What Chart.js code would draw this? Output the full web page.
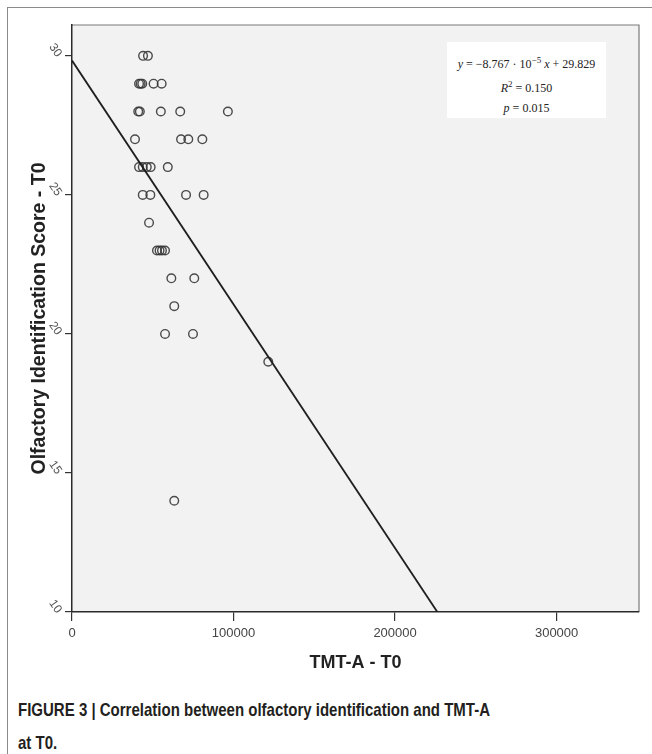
<!DOCTYPE html>
<html>
<head>
<meta charset="utf-8">
<script src="https://cdn.jsdelivr.net/npm/chart.js@4.4.1/dist/chart.umd.min.js"></script>
<style>
  html, body { margin: 0; padding: 0; background: #fff; width: 652px; height: 754px; overflow: hidden; }
  #frame { position: absolute; left: 7px; top: 7px; width: 700px; height: 800px;
           border-top: 1.5px solid #8a8a8a; border-left: 1.5px solid #8a8a8a; }
  #wrap { position: absolute; left: 0; top: 0; width: 652px; height: 680px; }
  #note { position: absolute; left: 447px; top: 42px; width: 159px; height: 76px; background: #fff;
          font-family: "Liberation Serif", "DejaVu Serif", serif; font-size: 12px; color: #222;
          text-align: center; line-height: 20px; padding-top: 8px; box-sizing: border-box; }
  #note i { font-style: italic; }
  #caption { position: absolute; left: 18px; top: 693px; width: 800px;
             font-family: "Liberation Sans", Arial, sans-serif; font-weight: bold;
             font-size: 19px; line-height: 33px; color: #231f20;
             transform: scaleX(0.79); transform-origin: 0 0; }
</style>
</head>
<body>
<div id="frame"></div>
<div id="wrap"><canvas id="grafico"></canvas></div>
<div id="note">
  <div><i>y</i> = −8.767 · 10<sup style="font-size:9px">−5</sup> <i>x</i> + 29.829</div>
  <div><i>R</i><sup style="font-size:9px">2</sup> = 0.150</div>
  <div><i>p</i> = 0.015</div>
</div>
<div id="caption">FIGURE 3 | Correlation between olfactory identification and TMT-A<br>at T0.</div>
<script>

// TMT-A time (x) e score de identificação olfativa (y)
var tmt_a = [
    44000, 47000,
    41500, 42500, 43500, 50500, 55500,
    41000, 42000, 55000, 67000, 96500,
    39000, 67500, 72000, 80700,
    41500, 43800, 46300, 48700, 59300,
    43800, 48500, 70600, 81500,
    47700,
    52600, 54200, 55700, 57600,
    61500, 75700,
    63300,
    57600, 74900,
    121500,
    63300
];
var olfato = [
    30, 30,
    29, 29, 29, 29, 29,
    28, 28, 28, 28, 28,
    27, 27, 27, 27,
    26, 26, 26, 26, 26,
    25, 25, 25, 25,
    24,
    23, 23, 23, 23,
    22, 22,
    21,
    20, 20,
    19,
    14
];

// reta de regressão: y = -8.767e-5 x + 29.829 (pontos extremos)
var reta_x = [0, 226180];
var reta_y = [29.829, 10];

var x_ticks = [0, 100000, 200000, 300000];
var y_ticks = [10, 15, 20, 25, 30];

var pontos = tmt_a.map(function (v, i) { return { x: v, y: olfato[i] }; });
var pontos_reta = reta_x.map(function (v, i) { return { x: v, y: reta_y[i] }; });

// fundo cinza da área do gráfico
const fundo_plot = {
    id: 'fundo_plot',
    beforeDraw(chart) {
        const a = chart.chartArea;
        const ctx = chart.ctx;
        ctx.save();
        ctx.fillStyle = '#f2f2f2';
        ctx.fillRect(a.left, a.top, a.right - a.left, a.bottom - a.top);
        ctx.strokeStyle = '#7a7a7a';
        ctx.lineWidth = 1.2;
        ctx.beginPath();
        ctx.moveTo(a.left, a.top);
        ctx.lineTo(a.right, a.top);
        ctx.lineTo(a.right, a.bottom);
        ctx.stroke();
        ctx.restore();
    }
};

const grafico = document.getElementById('grafico');

var myChart = new Chart(grafico, {
    type: 'scatter',
    data: {
        datasets: [{
            label: 'Pontos',
            data: pontos,
            pointStyle: 'circle',
            pointRadius: 4.3,
            pointBorderWidth: 1.4,
            borderColor: 'rgba(55, 55, 55, 0.9)',
            backgroundColor: 'rgba(0, 0, 0, 0)',
            order: 2
        }, {
            label: 'Regressão',
            type: 'line',
            data: pontos_reta,
            borderColor: '#1e1e1e',
            borderWidth: 1.8,
            pointRadius: 0,
            fill: false,
            order: 1
        }]
    },
    options: {
        responsive: true,
        maintainAspectRatio: false,
        animation: false,
        layout: {
            padding: { left: 8, top: 25, right: 13, bottom: 4 }
        },
        plugins: {
            legend: { display: false },
            tooltip: { enabled: false }
        },
        scales: {
            x: {
                type: 'linear',
                min: 0,
                max: 351000,
                afterBuildTicks: function (scale) {
                    scale.ticks = x_ticks.map(function (v) { return { value: v }; });
                },
                afterFit: function (scale) { scale.height = 64; },
                grid: { drawOnChartArea: false, drawTicks: true, tickLength: 9, color: '#333', lineWidth: 1.2 },
                border: { display: true, color: '#2a2a2a', width: 1.5 },
                ticks: {
                    color: '#444',
                    padding: 5,
                    font: { family: 'Liberation Sans', size: 13 },
                    callback: function (v) { return String(v); }
                },
                title: {
                    display: true,
                    text: 'TMT-A - T0',
                    color: '#222',
                    font: { family: 'Liberation Sans', size: 18, weight: 'bold' },
                    padding: { top: 0, bottom: 2 }
                }
            },
            y: {
                type: 'linear',
                min: 10,
                max: 31.11,
                afterBuildTicks: function (scale) {
                    scale.ticks = y_ticks.map(function (v) { return { value: v }; });
                },
                afterFit: function (scale) { scale.width = 64; },
                grid: { drawOnChartArea: false, drawTicks: true, tickLength: 7, color: '#333', lineWidth: 1.2 },
                border: { display: true, color: '#2a2a2a', width: 1.5 },
                ticks: {
                    color: '#555',
                    padding: 6,
                    minRotation: -55,
                    maxRotation: -55,
                    font: { family: 'Liberation Sans', size: 12 }
                },
                title: {
                    display: true,
                    text: 'Olfactory Identification Score - T0',
                    color: '#222',
                    font: { family: 'Liberation Sans', size: 19.5, weight: 'bold' },
                    padding: { top: 20, bottom: 0 }
                }
            }
        }
    },
    plugins: [fundo_plot]
});
</script>
</body>
</html>
